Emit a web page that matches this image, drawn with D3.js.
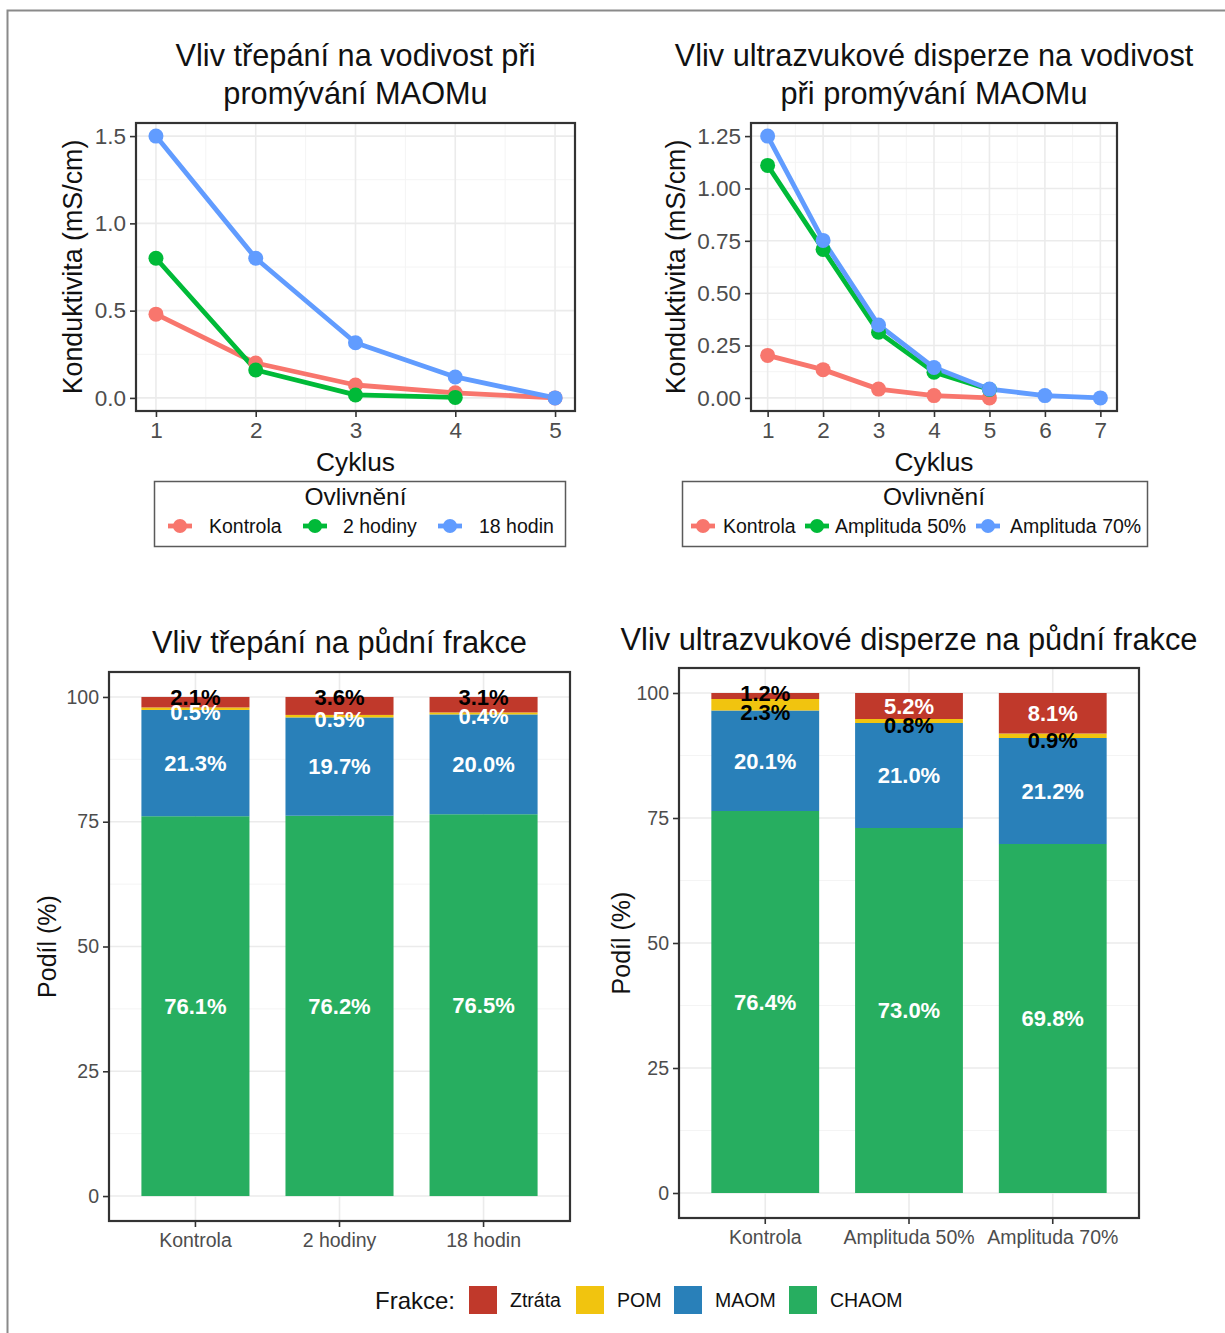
<!DOCTYPE html>
<html>
<head>
<meta charset="utf-8">
<script src="https://cdn.jsdelivr.net/npm/d3@7"></script>
<style>
  body { margin: 0; background: #fff; }
  text { font-family: "Liberation Sans", Arial, Helvetica, sans-serif; }
</style>
</head>
<body>
<script>
;(function (window, document, undefined) {

  'use strict';

  // --- line charts (conductivity per wash cycle) ---
  var treatLinesA = ['Kontrola', '2 hodiny', '18 hodin'];
  var kontrolaA = [0.48, 0.20, 0.074, 0.029, 0.0];
  var hodiny2 = [0.80, 0.16, 0.017, 0.003];
  var hodin18 = [1.50, 0.80, 0.316, 0.12, 0.0];
  var yTicksA = [0, 0.5, 1.0, 1.5];

  var treatLinesB = ['Kontrola', 'Amplituda 50%', 'Amplituda 70%'];
  var kontrolaB = [0.203, 0.135, 0.042, 0.011, 0.0];
  var amp50 = [1.11, 0.709, 0.314, 0.123, 0.04];
  var amp70 = [1.25, 0.752, 0.348, 0.145, 0.042, 0.011, 0.0];
  var yTicksB = [0, 0.25, 0.5, 0.75, 1.0, 1.25];

  // --- stacked bars (soil fractions, %) ---
  var fractions = ['Ztráta', 'POM', 'MAOM', 'CHAOM'];
  var treatBarsA = ['Kontrola', '2 hodiny', '18 hodin'];
  var chaomA = [76.1, 76.2, 76.5];
  var maomA = [21.3, 19.7, 20.0];
  var pomA = [0.5, 0.5, 0.4];
  var ztrataA = [2.1, 3.6, 3.1];

  var treatBarsB = ['Kontrola', 'Amplituda 50%', 'Amplituda 70%'];
  var chaomB = [76.4, 73.0, 69.8];
  var maomB = [20.1, 21.0, 21.2];
  var pomB = [2.3, 0.8, 0.9];
  var ztrataB = [1.2, 5.2, 8.1];
  var barTicks = [0, 25, 50, 75, 100];

  var lineColors = ['#F8766D', '#00BA38', '#619CFF'];
  var fracColors = { 'Ztráta': '#C0392B', 'POM': '#F1C40F', 'MAOM': '#2980B9', 'CHAOM': '#27AE60' };

  var GRID = '#ebebeb', GRID_MINOR = '#f4f4f4', BORDER = '#333333', TICK_TXT = '#4d4d4d';

  var svg = d3.select('body').append('svg')
    .attr('width', 1225)
    .attr('height', 1333);

  svg.append('rect')
    .attr('width', 1225).attr('height', 1333).attr('fill', '#fff');

  svg.append('rect')
    .attr('x', 7.5).attr('y', 10.5)
    .attr('width', 1240).attr('height', 1340)
    .attr('fill', 'none')
    .attr('stroke', '#8a8a8a')
    .attr('stroke-width', 2);

  var _styleAxis = function (g, size) {
    g.select('.domain').remove();
    g.selectAll('.tick line').attr('stroke', BORDER).attr('stroke-width', 1.6);
    g.selectAll('.tick text')
      .attr('fill', TICK_TXT)
      .style('font-size', size + 'px')
      .style('font-family', '"Liberation Sans", Arial, sans-serif');
  };

  var _title = function (lines, cx, y0, size) {
    lines.forEach(function (t, i) {
      svg.append('text')
        .attr('x', cx).attr('y', y0 + i * 38)
        .attr('text-anchor', 'middle')
        .style('font-size', size + 'px')
        .attr('fill', '#111')
        .text(t);
    });
  };

  var _vlabel = function (txt, x, cy, size) {
    svg.append('text')
      .attr('transform', 'translate(' + x + ',' + cy + ') rotate(-90)')
      .attr('text-anchor', 'middle')
      .style('font-size', size + 'px')
      .attr('fill', '#111')
      .text(txt);
  };

  var lineChart = function (cfg) {
    var p = cfg.panel;
    var nX = d3.max(cfg.series, function (s) { return s.values.length; });
    var yMax = d3.max(cfg.series, function (s) { return d3.max(s.values); });

    var x = d3.scaleLinear()
      .domain([1 - 0.05 * (nX - 1), nX + 0.05 * (nX - 1)])
      .range([p.left, p.right]);
    var y = d3.scaleLinear()
      .domain([-0.05 * yMax, yMax * 1.05])
      .range([p.bottom, p.top]);

    var xTicks = d3.range(1, nX + 1);
    var xMinor = d3.range(1.5, nX, 1);
    var step = cfg.yTicks[1] - cfg.yTicks[0];
    var yMinor = cfg.yTicks.slice(0, -1).map(function (v) { return v + step / 2; });

    var g = svg.append('g');

    g.selectAll('.ymin').data(yMinor).enter().append('line')
      .attr('x1', p.left).attr('x2', p.right)
      .attr('y1', y).attr('y2', y)
      .attr('stroke', GRID_MINOR).attr('stroke-width', 1);
    g.selectAll('.xmin').data(xMinor).enter().append('line')
      .attr('y1', p.top).attr('y2', p.bottom)
      .attr('x1', x).attr('x2', x)
      .attr('stroke', GRID_MINOR).attr('stroke-width', 1);
    g.selectAll('.ymaj').data(cfg.yTicks).enter().append('line')
      .attr('x1', p.left).attr('x2', p.right)
      .attr('y1', y).attr('y2', y)
      .attr('stroke', GRID).attr('stroke-width', 1.6);
    g.selectAll('.xmaj').data(xTicks).enter().append('line')
      .attr('y1', p.top).attr('y2', p.bottom)
      .attr('x1', x).attr('x2', x)
      .attr('stroke', GRID).attr('stroke-width', 1.6);

    var line = d3.line()
      .x(function (d, i) { return x(i + 1); })
      .y(function (d) { return y(d); });

    cfg.series.forEach(function (s) {
      g.append('path')
        .datum(s.values)
        .attr('d', line)
        .attr('fill', 'none')
        .attr('stroke', s.color)
        .attr('stroke-width', 4.8)
        .attr('stroke-linejoin', 'round');
    });
    cfg.series.forEach(function (s) {
      g.selectAll(null).data(s.values).enter().append('circle')
        .attr('cx', function (d, i) { return x(i + 1); })
        .attr('cy', function (d) { return y(d); })
        .attr('r', 7.5)
        .attr('fill', s.color);
    });

    g.append('rect')
      .attr('x', p.left).attr('y', p.top)
      .attr('width', p.right - p.left).attr('height', p.bottom - p.top)
      .attr('fill', 'none').attr('stroke', BORDER).attr('stroke-width', 2.2);

    g.append('g')
      .attr('transform', 'translate(' + p.left + ',0)')
      .call(d3.axisLeft(y).tickValues(cfg.yTicks).tickFormat(d3.format(cfg.fmt)).tickSize(6).tickPadding(4))
      .call(_styleAxis, 22.5);
    g.append('g')
      .attr('transform', 'translate(0,' + p.bottom + ')')
      .call(d3.axisBottom(x).tickValues(xTicks).tickFormat(d3.format('d')).tickSize(6).tickPadding(5))
      .call(_styleAxis, 22.5);

    var cx = (p.left + p.right) / 2;
    _title(cfg.title, cx, 66, 30.7);
    _vlabel('Konduktivita (mS/cm)', cfg.ylabX, (p.top + p.bottom) / 2, 26.8);
    svg.append('text')
      .attr('x', cx).attr('y', 471)
      .attr('text-anchor', 'middle')
      .style('font-size', '26.3px')
      .attr('fill', '#111')
      .text('Cyklus');

    // legend
    var lg = cfg.legend;
    svg.append('rect')
      .attr('x', lg.x).attr('y', 481.5)
      .attr('width', lg.w).attr('height', 65)
      .attr('fill', '#fff').attr('stroke', '#5a5a5a').attr('stroke-width', 1.5);
    svg.append('text')
      .attr('x', cx).attr('y', 505)
      .attr('text-anchor', 'middle')
      .style('font-size', '24.5px')
      .attr('fill', '#111')
      .text('Ovlivnění');
    cfg.series.forEach(function (s, i) {
      var kx = lg.keys[i];
      svg.append('line')
        .attr('x1', kx - 12).attr('x2', kx + 12)
        .attr('y1', 526).attr('y2', 526)
        .attr('stroke', s.color).attr('stroke-width', 4.8);
      svg.append('circle')
        .attr('cx', kx).attr('cy', 526).attr('r', 7)
        .attr('fill', s.color);
      svg.append('text')
        .attr('x', lg.texts[i]).attr('y', 533)
        .style('font-size', '19.5px')
        .attr('fill', '#111')
        .text(s.name);
    });
  };

  // where a segment's label sits (in % units): thin top/middle slices sit near their edges
  var _labelPos = function (key, d) {
    var v = d[1] - d[0];
    if (key === 'Ztráta' && v < 4) return d[1] - 0.1;
    if (key === 'POM') return d[0] - 0.4;
    return (d[0] + d[1]) / 2;
  };

  var barChart = function (cfg) {
    var p = cfg.panel;
    var rows = cfg.cats.map(function (c, i) {
      return { cat: c, 'CHAOM': cfg.chaom[i], 'MAOM': cfg.maom[i], 'POM': cfg.pom[i], 'Ztráta': cfg.ztrata[i] };
    });
    var stack = d3.stack().keys(['CHAOM', 'MAOM', 'POM', 'Ztráta'])(rows);

    var x = d3.scaleBand()
      .domain(cfg.cats)
      .range([p.left, p.right])
      .paddingInner(0.25)
      .paddingOuter(0.225);
    var y = d3.scaleLinear()
      .domain([-5, 105])
      .range([p.bottom, p.top]);

    var g = svg.append('g');
    var yMinor = [12.5, 37.5, 62.5, 87.5];

    g.selectAll('.ymin').data(yMinor).enter().append('line')
      .attr('x1', p.left).attr('x2', p.right)
      .attr('y1', y).attr('y2', y)
      .attr('stroke', GRID_MINOR).attr('stroke-width', 1);
    g.selectAll('.ymaj').data(barTicks).enter().append('line')
      .attr('x1', p.left).attr('x2', p.right)
      .attr('y1', y).attr('y2', y)
      .attr('stroke', GRID).attr('stroke-width', 1.6);
    g.selectAll('.xmaj').data(cfg.cats).enter().append('line')
      .attr('y1', p.top).attr('y2', p.bottom)
      .attr('x1', function (d) { return x(d) + x.bandwidth() / 2; })
      .attr('x2', function (d) { return x(d) + x.bandwidth() / 2; })
      .attr('stroke', GRID).attr('stroke-width', 1.6);

    stack.forEach(function (layer) {
      g.selectAll(null).data(layer).enter().append('rect')
        .attr('x', function (d) { return x(d.data.cat); })
        .attr('width', x.bandwidth())
        .attr('y', function (d) { return y(d[1]); })
        .attr('height', function (d) { return y(d[0]) - y(d[1]); })
        .attr('fill', fracColors[layer.key]);
    });

    stack.forEach(function (layer) {
      g.selectAll(null).data(layer).enter().append('text')
        .attr('x', function (d) { return x(d.data.cat) + x.bandwidth() / 2; })
        .attr('y', function (d) { return y(_labelPos(layer.key, d)); })
        .attr('dy', '0.36em')
        .attr('text-anchor', 'middle')
        .style('font-size', '22px')
        .style('font-weight', 'bold')
        .attr('fill', function (d) {
          return cfg.dark(layer.key, d[1] - d[0]) ? '#000' : '#fff';
        })
        .text(function (d) { return d3.format('.1f')(d[1] - d[0]) + '%'; });
    });

    g.append('rect')
      .attr('x', p.left).attr('y', p.top)
      .attr('width', p.right - p.left).attr('height', p.bottom - p.top)
      .attr('fill', 'none').attr('stroke', BORDER).attr('stroke-width', 2.2);

    g.append('g')
      .attr('transform', 'translate(' + p.left + ',0)')
      .call(d3.axisLeft(y).tickValues(barTicks).tickSize(6).tickPadding(4))
      .call(_styleAxis, 19.5);
    g.append('g')
      .attr('transform', 'translate(0,' + p.bottom + ')')
      .call(d3.axisBottom(x).tickSize(6).tickPadding(6))
      .call(_styleAxis, 19.5);

    _title([cfg.title], (p.left + p.right) / 2, cfg.titleY, 30.8);
    _vlabel('Podíl (%)', cfg.ylabX, (p.top + p.bottom) / 2, 25);
  };

  lineChart({
    panel: { left: 136, right: 575, top: 123, bottom: 411 },
    series: [
      { name: treatLinesA[0], values: kontrolaA, color: lineColors[0] },
      { name: treatLinesA[1], values: hodiny2, color: lineColors[1] },
      { name: treatLinesA[2], values: hodin18, color: lineColors[2] }
    ],
    yTicks: yTicksA,
    fmt: '.1f',
    title: ['Vliv třepání na vodivost při', 'promývání MAOMu'],
    ylabX: 82,
    legend: { x: 154.5, w: 411, keys: [180, 315, 450], texts: [209, 343, 479] }
  });

  lineChart({
    panel: { left: 751, right: 1117, top: 123, bottom: 411 },
    series: [
      { name: treatLinesB[0], values: kontrolaB, color: lineColors[0] },
      { name: treatLinesB[1], values: amp50, color: lineColors[1] },
      { name: treatLinesB[2], values: amp70, color: lineColors[2] }
    ],
    yTicks: yTicksB,
    fmt: '.2f',
    title: ['Vliv ultrazvukové disperze na vodivost', 'při promývání MAOMu'],
    ylabX: 685,
    legend: { x: 682.5, w: 465, keys: [703, 817, 988], texts: [723, 835, 1010] }
  });

  barChart({
    panel: { left: 109, right: 570, top: 672, bottom: 1221 },
    cats: treatBarsA, chaom: chaomA, maom: maomA, pom: pomA, ztrata: ztrataA,
    title: 'Vliv třepání na půdní frakce',
    titleY: 653,
    ylabX: 56,
    dark: function (key) { return key === 'Ztráta'; }
  });

  barChart({
    panel: { left: 679, right: 1139, top: 668, bottom: 1218 },
    cats: treatBarsB, chaom: chaomB, maom: maomB, pom: pomB, ztrata: ztrataB,
    title: 'Vliv ultrazvukové disperze na půdní frakce',
    titleY: 650,
    ylabX: 630,
    dark: function (key, v) { return key === 'POM' || (key === 'Ztráta' && v < 3); }
  });

  // shared fraction legend
  var legX = [469, 576, 674, 789];
  svg.append('text')
    .attr('x', 375).attr('y', 1309)
    .style('font-size', '24px')
    .attr('fill', '#111')
    .text('Frakce:');
  fractions.forEach(function (f, i) {
    svg.append('rect')
      .attr('x', legX[i]).attr('y', 1286)
      .attr('width', 28).attr('height', 28)
      .attr('fill', fracColors[f]);
    svg.append('text')
      .attr('x', legX[i] + 41).attr('y', 1307)
      .style('font-size', '19.5px')
      .attr('fill', '#111')
      .text(f);
  });

})(window, document);
</script>
</body>
</html>
